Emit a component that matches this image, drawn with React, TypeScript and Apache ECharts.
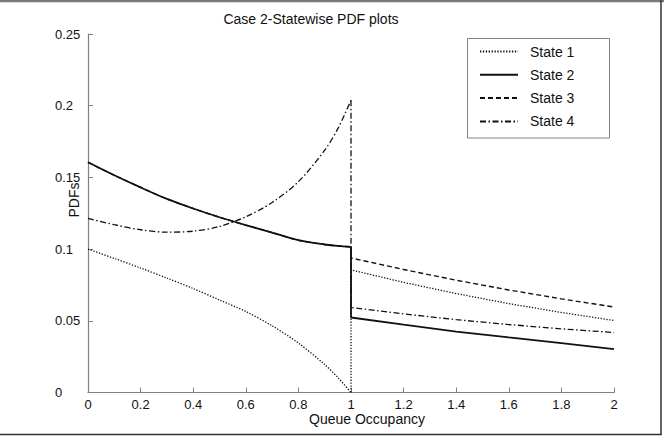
import React, { useEffect, useRef } from "react";
import * as echarts from "echarts";

// Queue occupancy grid: below the threshold (0..1) and above it (1..2)
const xLow = [0, 0.1, 0.2, 0.3, 0.4, 0.5, 0.6, 0.7, 0.8, 0.9, 0.95, 1];
const xHigh = [1, 1.2, 1.4, 1.6, 1.8, 2];

const state1Low = [0.1, 0.0935, 0.0868, 0.0798, 0.0725, 0.0645, 0.0565, 0.0465, 0.0345, 0.0195, 0.0105, 0];
const state1High = [0.0855, 0.0768, 0.069, 0.062, 0.0558, 0.0502];

const state2Low = [0.1606, 0.1515, 0.143, 0.135, 0.1283, 0.1222, 0.1167, 0.1115, 0.1062, 0.1032, 0.1022, 0.1016];
const state2High = [0.0523, 0.0473, 0.0425, 0.0384, 0.0344, 0.0302];

const state3Low = [0.1606, 0.1515, 0.143, 0.135, 0.1283, 0.1222, 0.1167, 0.1115, 0.1062, 0.1032, 0.1022, 0.1016];
const state3High = [0.0938, 0.0858, 0.0783, 0.0715, 0.0653, 0.0596];

const state4Low = [0.1214, 0.117, 0.1135, 0.1118, 0.1125, 0.1158, 0.1225, 0.1325, 0.147, 0.169, 0.184, 0.2038];
const state4High = [0.0593, 0.0548, 0.0508, 0.0474, 0.0444, 0.0418];

const stateNames = ["State 1", "State 2", "State 3", "State 4"];
const xTicks = { min: 0, max: 2, interval: 0.2 };
const yTicks = { min: 0, max: 0.25, interval: 0.05 };

const FONT = "'Liberation Sans', Arial, Helvetica, sans-serif";
const INK = "#111";

const zip = (xs: number[], ys: number[]) => xs.map((x, i) => [x, ys[i]]);

const styles = [
  { width: 1.3, type: [1.3, 1.6] as number[] | string },
  { width: 1.8, type: "solid" as number[] | string },
  { width: 1.4, type: [5, 3] as number[] | string },
  { width: 1.3, type: [6, 2.5, 1.5, 2.5] as number[] | string },
];

const lows = [state1Low, state2Low, state3Low, state4Low];
const highs = [state1High, state2High, state3High, state4High];

export default function App() {
  const ref = useRef<HTMLDivElement>(null);

  useEffect(() => {
    if (!ref.current) return;
    const chart = echarts.init(ref.current, undefined, { renderer: "svg" });

    const series: any[] = [];
    stateNames.forEach((name, k) => {
      const lineStyle = { color: INK, width: styles[k].width, type: styles[k].type };
      // left branch, smooth curve up to the threshold
      series.push({
        name,
        type: "line",
        data: zip(xLow, lows[k]),
        symbol: "none",
        smooth: 0.3,
        lineStyle,
        itemStyle: { color: INK },
        z: 2 + k,
      });
      // jump at the threshold followed by the right branch
      const lowEnd = lows[k][lows[k].length - 1];
      series.push({
        name,
        type: "line",
        data: [[1, lowEnd], ...zip(xHigh, highs[k])],
        symbol: "none",
        lineStyle,
        itemStyle: { color: INK },
        z: 2 + k,
      });
    });

    chart.setOption({
      animation: false,
      backgroundColor: "#fff",
      textStyle: { fontFamily: FONT },
      grid: { left: 88, right: 50, top: 34, bottom: 53.5 },
      xAxis: {
        type: "value",
        ...xTicks,
        axisLine: { show: true, lineStyle: { color: "#808080", width: 1.2 } },
        axisTick: { show: true, inside: true, length: 5, lineStyle: { color: "#808080" } },
        axisLabel: { color: INK, fontSize: 13, margin: 5, fontFamily: FONT },
        splitLine: { show: false },
      },
      yAxis: {
        type: "value",
        ...yTicks,
        axisLine: { show: true, lineStyle: { color: "#808080", width: 1.2 } },
        axisTick: { show: true, inside: true, length: 5, lineStyle: { color: "#808080" } },
        axisLabel: { color: INK, fontSize: 13, margin: 33, align: "left", fontFamily: FONT },
        splitLine: { show: false },
      },
      legend: {
        data: stateNames,
        orient: "vertical",
        left: 479,
        top: 44.5,
        itemWidth: 38,
        itemHeight: 14,
        itemGap: 9.3,
        padding: 0,
        // line samples only, no marker on them
        itemStyle: { opacity: 0, borderWidth: 0 },
        textStyle: { color: INK, fontSize: 14, fontFamily: FONT, padding: [0, 0, 0, 7] },
        selectedMode: false,
      },
      graphic: [
        // legend frame
        {
          type: "rect",
          shape: { x: 467.5, y: 38.5, width: 142, height: 99.5 },
          style: { fill: "none", stroke: "#808080", lineWidth: 1 },
          silent: true,
        },
        // figure frame
        {
          type: "line",
          shape: { x1: 0, y1: 1, x2: 664, y2: 1 },
          style: { stroke: "#7a7a7a", lineWidth: 2.5 },
        },
        {
          type: "line",
          shape: { x1: 661, y1: 0, x2: 661, y2: 435 },
          style: { stroke: "#333", lineWidth: 1.5 },
        },
        {
          type: "line",
          shape: { x1: 0, y1: 434.5, x2: 661.7, y2: 434.5 },
          style: { stroke: "#333", lineWidth: 1.5 },
        },
        {
          type: "text",
          x: 311,
          y: 19,
          style: {
            text: "Case 2-Statewise PDF plots",
            fill: INK,
            font: `14px ${FONT}`,
            align: "center",
            verticalAlign: "middle",
          },
        },
        {
          type: "text",
          x: 367,
          y: 419,
          style: {
            text: "Queue Occupancy",
            fill: INK,
            font: `14px ${FONT}`,
            align: "center",
            verticalAlign: "middle",
          },
        },
        {
          type: "text",
          x: 74,
          y: 200,
          rotation: Math.PI / 2,
          style: {
            text: "PDFs",
            fill: INK,
            font: `14px ${FONT}`,
            align: "center",
            verticalAlign: "middle",
          },
        },
      ],
      series,
    });

    return () => chart.dispose();
  }, []);

  return (
    <div
      ref={ref}
      style={{ position: "absolute", left: 0, top: 0, width: 664, height: 446 }}
    />
  );
}
